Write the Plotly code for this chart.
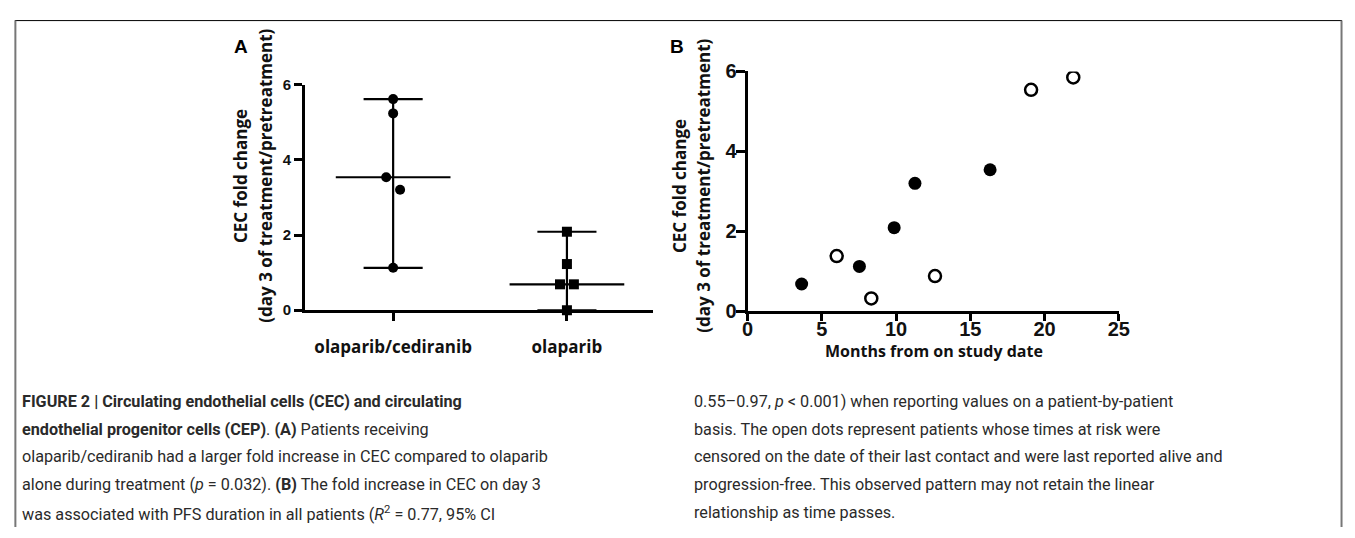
import numpy as np
import plotly.graph_objects as go

W, H = 1355, 538

# ---------------- data ----------------
# Panel A
categories = ["olaparib/cediranib", "olaparib"]
combo_values = [5.62, 5.24, 3.54, 3.21, 1.13]
combo_jitter = [0.0, 0.0, -0.04, 0.04, 0.0]
olap_values = [2.09, 1.23, 0.69, 0.69, 0.0]
olap_jitter = [0.0, 0.0, -0.04, 0.04, 0.0]
a_yticks = [0, 2, 4, 6]

# Panel B
prog_months = [3.64, 7.53, 9.87, 11.27, 16.33]
prog_cec = [0.68, 1.12, 2.09, 3.20, 3.54]
cens_months = [6.0, 8.33, 12.62, 19.09, 21.93]
cens_cec = [1.38, 0.32, 0.88, 5.54, 5.85]
b_xticks = [0, 5, 10, 15, 20, 25]
b_yticks = [0, 2, 4, 6]

caption_left = [
    "<b>FIGURE 2 | Circulating endothelial cells (CEC) and circulating</b>",
    "<b>endothelial progenitor cells (CEP)</b>. <b>(A)</b> Patients receiving",
    "olaparib/cediranib had a larger fold increase in CEC compared to olaparib",
    "alone during treatment (<i>p</i> = 0.032). <b>(B)</b> The fold increase in CEC on day 3",
    "was associated with PFS duration in all patients (<i>R</i><sup>2</sup> = 0.77, 95% CI",
]
caption_right = [
    "0.55–0.97, <i>p</i> &lt; 0.001) when reporting values on a patient-by-patient",
    "basis. The open dots represent patients whose times at risk were",
    "censored on the date of their last contact and were last reported alive and",
    "progression-free. This observed pattern may not retain the linear",
    "relationship as time passes.",
]

# ---------------- helpers ----------------
def px(x):
    return x / W

def py(y):
    return 1 - y / H

BOLD_TITLE = dict(family="Open Sans", size=17, color="#111", weight="bold")
TICKFONT_A = dict(family="Liberation Sans, Arial", size=15, color="#111", weight="bold")
TICKFONT_B = dict(family="Liberation Sans, Arial", size=20, color="#111", weight="bold")
CAPFONT = dict(family="Roboto", size=16.2, color="#2a2a2a")

fig = go.Figure()

# ---------------- Panel A ----------------
groups = [(combo_values, combo_jitter, "circle"), (olap_values, olap_jitter, "square")]
for gi, (vals, jit, sym) in enumerate(groups):
    vals = np.array(vals)
    med, lo, hi = np.median(vals), vals.min(), vals.max()
    fig.add_trace(go.Scatter(x=[gi, gi], y=[lo, hi], mode="lines",
                             line=dict(color="black", width=2.2),
                             xaxis="x", yaxis="y", showlegend=False, hoverinfo="skip"))
    for v in (lo, hi):
        fig.add_trace(go.Scatter(x=[gi - 0.17, gi + 0.17], y=[v, v], mode="lines",
                                 line=dict(color="black", width=2.2),
                                 xaxis="x", yaxis="y", showlegend=False, hoverinfo="skip"))
    fig.add_trace(go.Scatter(x=[gi - 0.33, gi + 0.33], y=[med, med], mode="lines",
                             line=dict(color="black", width=2.2),
                             xaxis="x", yaxis="y", showlegend=False, hoverinfo="skip"))
    fig.add_trace(go.Scatter(x=[gi + j for j in jit], y=vals, mode="markers",
                             marker=dict(symbol=sym, size=10, color="black"),
                             xaxis="x", yaxis="y", showlegend=False, cliponaxis=False))

# ---------------- Panel B ----------------
fig.add_trace(go.Scatter(x=prog_months, y=prog_cec, mode="markers",
                         marker=dict(symbol="circle", size=13, color="black"),
                         xaxis="x2", yaxis="y2", showlegend=False))
fig.add_trace(go.Scatter(x=cens_months, y=cens_cec, mode="markers",
                         marker=dict(symbol="circle-open", size=12, color="black",
                                     line=dict(width=2.5, color="black")),
                         xaxis="x2", yaxis="y2", showlegend=False))

axis_common = dict(showline=True, linecolor="black", linewidth=3, ticks="outside",
                   tickcolor="black", tickwidth=3, showgrid=False, zeroline=False,
                   fixedrange=True)

fig.update_layout(
    width=W, height=H,
    margin=dict(l=0, r=0, t=0, b=0),
    paper_bgcolor="white", plot_bgcolor="white",
    xaxis=dict(domain=[px(303), px(655)], range=[-0.506, 1.494], anchor="y",
               tickvals=list(range(len(categories))), ticktext=categories,
               ticklen=8, tickfont=BOLD_TITLE, ticklabelstandoff=11, **axis_common),
    yaxis=dict(domain=[py(312), py(77)], range=[0, 6], anchor="x",
               tickvals=a_yticks, ticklen=8, tickfont=TICKFONT_A,
               ticklabelstandoff=0, **axis_common),
    xaxis2=dict(domain=[px(751), px(1127)], range=[0, 25], anchor="y2",
                tickvals=b_xticks, ticklen=7, tickfont=TICKFONT_B,
                ticklabelstandoff=-9, **axis_common),
    yaxis2=dict(domain=[py(313), py(63)], range=[0, 6], anchor="x2",
                tickvals=b_yticks, ticklen=9, tickfont=TICKFONT_B,
                ticklabelstandoff=-5, **axis_common),
)

ann = []
ann.append(dict(x=px(238), y=py(37), text="A", font=dict(family="Liberation Sans, Arial", size=19,
                color="black", weight="bold")))
ann.append(dict(x=px(680), y=py(37), text="B", font=dict(family="Liberation Sans, Arial", size=19,
                color="black", weight="bold")))
for (x1, x2, yc) in [(238, 263, 172), (682, 706, 182)]:
    ann.append(dict(x=px(x1), y=py(yc), text="CEC fold change", textangle=-90, font=BOLD_TITLE))
    ann.append(dict(x=px(x2), y=py(yc), text="(day 3 of treatment/pretreatment)", textangle=-90,
                    font=BOLD_TITLE))
ann.append(dict(x=px(940), y=py(354), text="Months from on study date",
                font=dict(family="Open Sans", size=16, color="#111", weight="bold")))

for a in ann:
    a.update(xref="paper", yref="paper", showarrow=False, xanchor="center", yanchor="middle")

line_y = [407, 436, 465, 494, 523]
for txt, yy in zip(caption_left, line_y):
    ann.append(dict(x=px(14), y=py(yy), text=txt, xref="paper", yref="paper", showarrow=False,
                    xanchor="left", yanchor="middle", font=CAPFONT))
for txt, yy in zip(caption_right, line_y):
    ann.append(dict(x=px(695), y=py(yy), text=txt, xref="paper", yref="paper", showarrow=False,
                    xanchor="left", yanchor="middle", font=CAPFONT))
fig.update_layout(annotations=ann)

shapes = [
    dict(type="line", xref="paper", yref="paper", x0=px(9), x1=px(1353), y0=py(10), y1=py(10),
         line=dict(color="black", width=1)),
    dict(type="line", xref="paper", yref="paper", x0=px(9.5), x1=px(9.5), y0=py(10), y1=0,
         line=dict(color="#777", width=2)),
    dict(type="line", xref="paper", yref="paper", x0=px(1352.5), x1=px(1352.5), y0=py(10), y1=0,
         line=dict(color="#777", width=2)),
]
fig.update_layout(shapes=shapes)

fig.write_html("out.html")
